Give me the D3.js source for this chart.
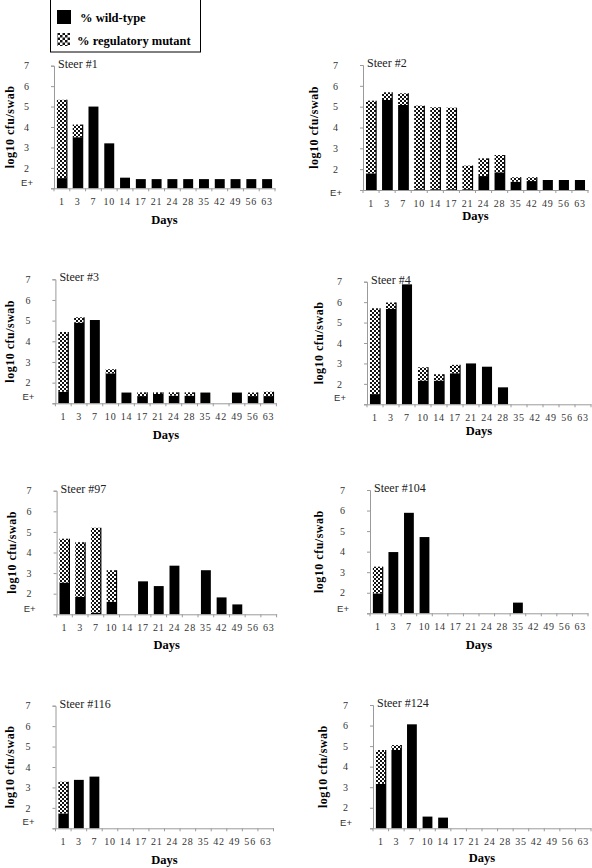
<!DOCTYPE html>
<html>
<head>
<meta charset="utf-8">
<script src="https://cdn.jsdelivr.net/npm/d3@7"></script>
<style>
  html, body { margin: 0; padding: 0; background: #fff; }
  svg { display: block; }
</style>
</head>
<body>
<svg id="chart" width="592" height="868"></svg>
<script>
// ---------- DATA ----------
const days = ["1", "3", "7", "10", "14", "17", "21", "24", "28", "35", "42", "49", "56", "63"];
const yTickValues = [1, 2, 3, 4, 5, 6, 7];
const yTickLabels = ["E+", "2", "3", "4", "5", "6", "7"];
const legendLabels = ["% wild-type", "% regulatory mutant"];
const steerNames = ["Steer #1", "Steer #2", "Steer #3", "Steer #4", "Steer #97", "Steer #104", "Steer #116", "Steer #124"];

// wild-type bar heights (log10 cfu/swab), null = no bar
const wildSteer1   = [1.5, 3.5, 5.0, 3.2, 1.52, 1.45, 1.45, 1.45, 1.45, 1.45, 1.45, 1.45, 1.45, 1.45];
const wildSteer2   = [1.8, 5.32, 5.08, 1.04, 1.04, 1.04, 1.04, 1.67, 1.85, 1.4, 1.43, 1.48, 1.48, 1.48];
const wildSteer3   = [1.56, 4.9, 5.03, 2.45, 1.52, 1.35, 1.45, 1.37, 1.37, 1.52, null, 1.52, 1.35, 1.35];
const wildSteer4   = [1.5, 5.67, 6.87, 2.16, 2.16, 2.52, 3.0, 2.84, 1.83, null, null, null, null, null];
const wildSteer97  = [2.54, 1.85, 1.08, 1.61, null, 2.6, 2.37, 3.36, null, 3.14, 1.82, 1.48, null, null];
const wildSteer104 = [1.97, 3.98, 5.89, 4.71, null, null, null, null, null, 1.52, null, null, null, null];
const wildSteer116 = [1.73, 3.37, 3.53, null, null, null, null, null, null, null, null, null, null, null];
const wildSteer124 = [3.16, 4.81, 6.06, 1.57, 1.52, null, null, null, null, null, null, null, null, null];

// top of the regulatory-mutant segment (stacked on wild-type), null = no mutant segment
const totalSteer1   = [5.33, 4.12, null, null, null, null, null, null, null, null, null, null, null, null];
const totalSteer2   = [5.29, 5.69, 5.64, 5.05, 4.97, 4.95, 2.17, 2.52, 2.68, 1.61, 1.61, null, null, null];
const totalSteer3   = [4.45, 5.16, null, 2.65, null, 1.53, 1.53, 1.53, 1.53, null, null, null, 1.52, 1.56];
const totalSteer4   = [5.7, 5.98, null, 2.81, 2.47, 2.93, null, null, null, null, null, null, null, null];
const totalSteer97  = [4.67, 4.5, 5.2, 3.14, null, null, null, null, null, null, null, null, null, null];
const totalSteer104 = [3.27, null, null, null, null, null, null, null, null, null, null, null, null, null];
const totalSteer116 = [3.28, null, null, null, null, null, null, null, null, null, null, null, null, null];
const totalSteer124 = [4.81, 5.05, null, null, null, null, null, null, null, null, null, null, null, null];

const wildSeries  = [wildSteer1, wildSteer2, wildSteer3, wildSteer4, wildSteer97, wildSteer104, wildSteer116, wildSteer124];
const totalSeries = [totalSteer1, totalSteer2, totalSteer3, totalSteer4, totalSteer97, totalSteer104, totalSteer116, totalSteer124];

// ---------- LAYOUT ----------
const layout = [
  { x0: 54,  w: 221, base: 188.3, top: 65.7,  titleX: 10,  eDy: -6, daysDy: 32 },
  { x0: 363, w: 225, base: 190,   top: 65,    titleX: 314, eDy: 2,  daysDy: 26 },
  { x0: 55.4,w: 221, base: 403.3, top: 279.3, titleX: 10,  eDy: -7, daysDy: 32 },
  { x0: 367, w: 224, base: 404.3, top: 281.7, titleX: 319, eDy: -7, daysDy: 27 },
  { x0: 56.6,w: 220, base: 614.3, top: 490.7, titleX: 12,  eDy: -6, daysDy: 31 },
  { x0: 370, w: 218, base: 613.3, top: 490,   titleX: 319, eDy: -5, daysDy: 32 },
  { x0: 55.5,w: 218, base: 828.3, top: 705.7, titleX: 10,  eDy: -7, daysDy: 32 },
  { x0: 373, w: 218, base: 828.3, top: 705,   titleX: 323, eDy: -6, daysDy: 30 }
];

const svg = d3.select("#chart");
const serif = "'Liberation Serif', 'Times New Roman', serif";
const axisColor = "#9a9a9a";

// checker pattern
const defs = svg.append("defs");
function checker(id, c) {
  const p = defs.append("pattern").attr("id", id).attr("patternUnits", "userSpaceOnUse")
    .attr("width", 2 * c).attr("height", 2 * c);
  p.append("rect").attr("width", 2 * c).attr("height", 2 * c).attr("fill", "#fff");
  p.append("rect").attr("width", c).attr("height", c).attr("fill", "#111");
  p.append("rect").attr("x", c).attr("y", c).attr("width", c).attr("height", c).attr("fill", "#111");
}
checker("chk", 2);
checker("chkL", 2.5);

// ---------- LEGEND ----------
const lg = svg.append("g");
lg.append("rect").attr("x", 50.5).attr("y", -1).attr("width", 150).attr("height", 53)
  .attr("fill", "#fff").attr("stroke", "#000").attr("stroke-width", 1);
lg.append("rect").attr("x", 57).attr("y", 10).attr("width", 14).attr("height", 14).attr("fill", "#000");
lg.append("rect").attr("x", 57).attr("y", 33).attr("width", 13).attr("height", 13).attr("fill", "url(#chkL)");
lg.append("text").attr("x", 80).attr("y", 21.5).text(legendLabels[0])
  .attr("font-family", serif).attr("font-weight", "bold").attr("font-size", 12.5).attr("fill", "#000");
lg.append("text").attr("x", 77).attr("y", 44.5).text(legendLabels[1])
  .attr("font-family", serif).attr("font-weight", "bold").attr("font-size", 12.5).attr("fill", "#000");

// ---------- PANELS ----------
layout.forEach((L, i) => {
  const g = svg.append("g");
  const x = d3.scaleBand().domain(days).range([L.x0, L.x0 + L.w]).paddingInner(0.37).paddingOuter(0.185);
  const y = d3.scaleLinear().domain([1, 7]).range([L.base, L.top]);
  const wild = wildSeries[i], total = totalSeries[i];

  // bars: wild-type
  g.selectAll("rect.wild").data(days.map((d, k) => ({ d, v: wild[k] })).filter(e => e.v != null))
    .enter().append("rect")
    .attr("x", e => x(e.d)).attr("width", x.bandwidth())
    .attr("y", e => y(e.v)).attr("height", e => y(1) - y(e.v))
    .attr("fill", "#000");

  // bars: mutant segment
  const mut = days.map((d, k) => ({ d, lo: wild[k] == null ? 1 : wild[k], hi: total[k] })).filter(e => e.hi != null);
  g.selectAll("rect.mut").data(mut).enter().append("rect")
    .attr("x", e => x(e.d)).attr("width", x.bandwidth())
    .attr("y", e => y(e.hi)).attr("height", e => y(e.lo) - y(e.hi))
    .attr("fill", "url(#chk)");
  g.selectAll("line.edge").data(mut).enter().append("line")
    .attr("x1", e => x(e.d) + x.bandwidth()).attr("x2", e => x(e.d) + x.bandwidth())
    .attr("y1", e => y(e.hi)).attr("y2", y(1))
    .attr("stroke", "#000").attr("stroke-width", 1.2);

  // y axis
  const ya = d3.axisLeft(y).tickValues(yTickValues)
    .tickFormat((v, k) => yTickLabels[k]).tickSize(3).tickPadding(22);
  const yg = g.append("g").attr("transform", `translate(${L.x0},0)`).call(ya);
  yg.select(".domain").attr("stroke", axisColor);
  yg.selectAll(".tick line").attr("stroke", axisColor);
  yg.selectAll(".tick text").attr("font-family", serif).attr("font-size", 10).attr("fill", "#333");
  yg.selectAll(".tick text").filter((v) => v === 1).attr("font-family", "'Liberation Sans', Arial, sans-serif")
    .attr("font-size", 9.5).attr("dy", "0.32em").attr("transform", `translate(4,${L.eDy})`);

  // x axis
  const xa = d3.axisBottom(x).tickSize(0).tickPadding(10);
  const xg = g.append("g").attr("transform", `translate(0,${L.base})`).call(xa);
  xg.select(".domain").attr("stroke", axisColor);
  xg.selectAll(".tick text").attr("font-family", serif).attr("font-size", 10).attr("fill", "#333")
    .attr("letter-spacing", 0.8);
  // boundary ticks between categories
  const bounds = days.map(d => x(d) - x.step() * x.paddingInner() / 2).concat([L.x0 + L.w]);
  g.selectAll("line.bt").data(bounds).enter().append("line")
    .attr("x1", b => b).attr("x2", b => b).attr("y1", L.base).attr("y2", L.base + 3)
    .attr("stroke", axisColor).attr("stroke-width", 1);

  // steer title
  g.append("text").attr("x", L.x0 + 4).attr("y", L.top + 2).text(steerNames[i])
    .attr("font-family", serif).attr("font-size", 12).attr("fill", "#222");

  // y title
  g.append("text").attr("transform", `translate(${L.titleX + 4},${(L.base + L.top) / 2}) rotate(-90)`)
    .attr("text-anchor", "middle").text("log10 cfu/swab")
    .attr("font-family", serif).attr("font-weight", "bold").attr("font-size", 12).attr("letter-spacing", 0.5)
    .attr("fill", "#000");

  // x title
  g.append("text").attr("x", L.x0 + L.w / 2).attr("y", L.base + L.daysDy + 4).attr("text-anchor", "middle")
    .text("Days").attr("font-family", serif).attr("font-weight", "bold").attr("font-size", 12.5).attr("fill", "#000");
});
</script>
</body>
</html>
